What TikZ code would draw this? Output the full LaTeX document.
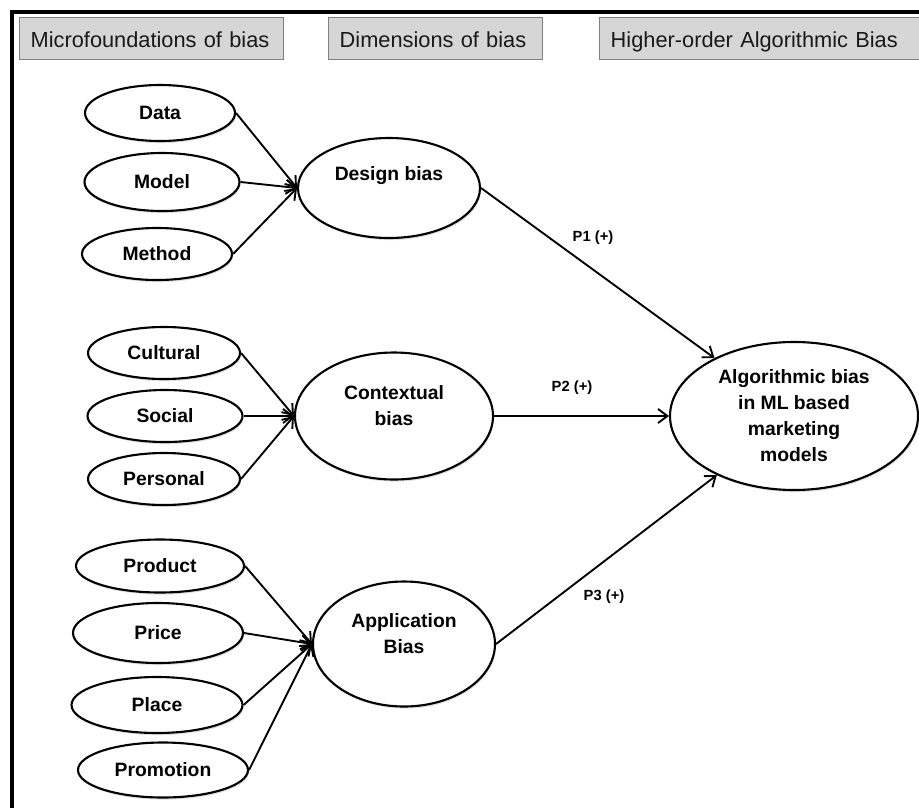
\documentclass[tikz,border=0pt]{standalone}
\usepackage{fontspec}
\setmainfont{Liberation Sans}
\usetikzlibrary{shapes.geometric,arrows.meta,shadows}
\pgfdeclarelayer{bg}
\pgfsetlayers{bg,main}
\definecolor{hdrgray}{HTML}{D6D6D6}
\definecolor{hdrline}{HTML}{808080}
\tikzset{
    micro/.style={ellipse, draw, line width=1.8pt, fill=white, inner sep=0mm,
        minimum width=4.6cm, minimum height=1.62cm,
        font=\fontsize{16.5}{22.2}\selectfont\bfseries,
        drop shadow={shadow xshift=0.8pt, shadow yshift=-1.8pt, opacity=.25}},
    dimen/.style={micro, align=center},
    hdr/.style={rectangle, draw=hdrline, fill=hdrgray, line width=1.2pt, anchor=north west,
        inner xsep=0.33cm, inner ysep=0mm, minimum height=1.26cm, align=left,
        text height=0.66cm, text depth=0.11cm,
        font=\fontsize{18.6}{22}\selectfont, text=black!90},
    plab/.style={font=\fontsize{12.6}{15}\selectfont\bfseries, inner sep=0mm},
    arr/.style={line width=1.6pt, -{Straight Barb[length=8pt,width=12pt]}}
}

\begin{document}
\begin{tikzpicture}
        \useasboundingbox (0cm, 0cm) rectangle (27.570000cm, -24.210000cm);
        \draw [line width=0.12cm] (0.360000cm, -24.400000cm) -- (0.360000cm, -0.360000cm) -- (27.800000cm, -0.360000cm);
        % column heads
        \node (h0) [hdr, text width=7.260000cm] at (0.570000cm, -0.510000cm) {Microfoundations of bias};
        \node (h1) [hdr, text width=5.760000cm] at (9.840000cm, -0.510000cm) {Dimensions of bias};
        \node (h2) [hdr, text width=9.400000cm] at (17.970000cm, -0.510000cm) {Higher-order Algorithmic Bias};
        % microfoundations
        \node (m0) [micro, minimum width=4.50cm, minimum height=1.68cm] at (4.800000cm, -3.390000cm) {Data};
        \node (m1) [micro, minimum width=4.65cm, minimum height=1.74cm] at (4.860000cm, -5.460000cm) {Model};
        \node (m2) [micro, minimum width=4.50cm, minimum height=1.56cm] at (4.710000cm, -7.620000cm) {Method};
        \node (m3) [micro, minimum width=4.56cm, minimum height=1.56cm] at (4.920000cm, -10.590000cm) {Cultural};
        \node (m4) [micro, minimum width=4.65cm, minimum height=1.56cm] at (4.950000cm, -12.480000cm) {Social};
        \node (m5) [micro, minimum width=4.56cm, minimum height=1.56cm] at (4.920000cm, -14.370000cm) {Personal};
        \node (m6) [micro, minimum width=5.04cm, minimum height=1.59cm] at (4.800000cm, -16.980000cm) {Product};
        \node (m7) [micro, minimum width=5.10cm, minimum height=1.80cm] at (4.740000cm, -18.990000cm) {Price};
        \node (m8) [micro, minimum width=5.13cm, minimum height=1.68cm] at (4.710000cm, -21.150000cm) {Place};
        \node (m9) [micro, minimum width=5.10cm, minimum height=1.65cm] at (4.890000cm, -23.100000cm) {Promotion};
        % dimensions
        \node (d0) [dimen, minimum width=5.46cm, minimum height=3.00cm, text depth=0.90cm] at (11.670000cm, -5.640000cm) {Design bias};
        \node (d1) [dimen, minimum width=5.94cm, minimum height=3.81cm, text depth=0.66cm] at (11.820000cm, -12.480000cm) {Contextual\\bias};
        \node (d2) [dimen, minimum width=5.46cm, minimum height=3.75cm, text depth=0.66cm] at (12.120000cm, -19.320000cm) {Application\\Bias};
        % higher-order
        \node (a0) [dimen, minimum width=7.44cm, minimum height=4.44cm] at (23.820000cm, -12.480000cm) {Algorithmic bias\\in ML based\\marketing\\models};
        \node (p1) [plab] at (17.790000cm, -7.140000cm) {P1 (+)};
        \node (p2) [plab] at (17.160000cm, -11.640000cm) {P2 (+)};
        \node (p3) [plab] at (18.120000cm, -17.910000cm) {P3 (+)};
        \begin{pgfonlayer}{bg}
                \draw (m0.east) edge [arr] (d0.west);
                \draw (m1.east) edge [arr] (d0.west);
                \draw (m2.east) edge [arr] (d0.west);
                \draw (m3.east) edge [arr] (d1.west);
                \draw (m4.east) edge [arr] (d1.west);
                \draw (m5.east) edge [arr] (d1.west);
                \draw (m6.east) edge [arr] (d2.west);
                \draw (m7.east) edge [arr] (d2.west);
                \draw (m8.east) edge [arr] (d2.west);
                \draw (m9.east) edge [arr] (d2.west);
                \draw (d0.east) edge [arr] (a0);
                \draw (d1.east) edge [arr] (a0.west);
                \draw (d2.east) edge [arr] (a0);
        \end{pgfonlayer}
\end{tikzpicture}
\end{document}
